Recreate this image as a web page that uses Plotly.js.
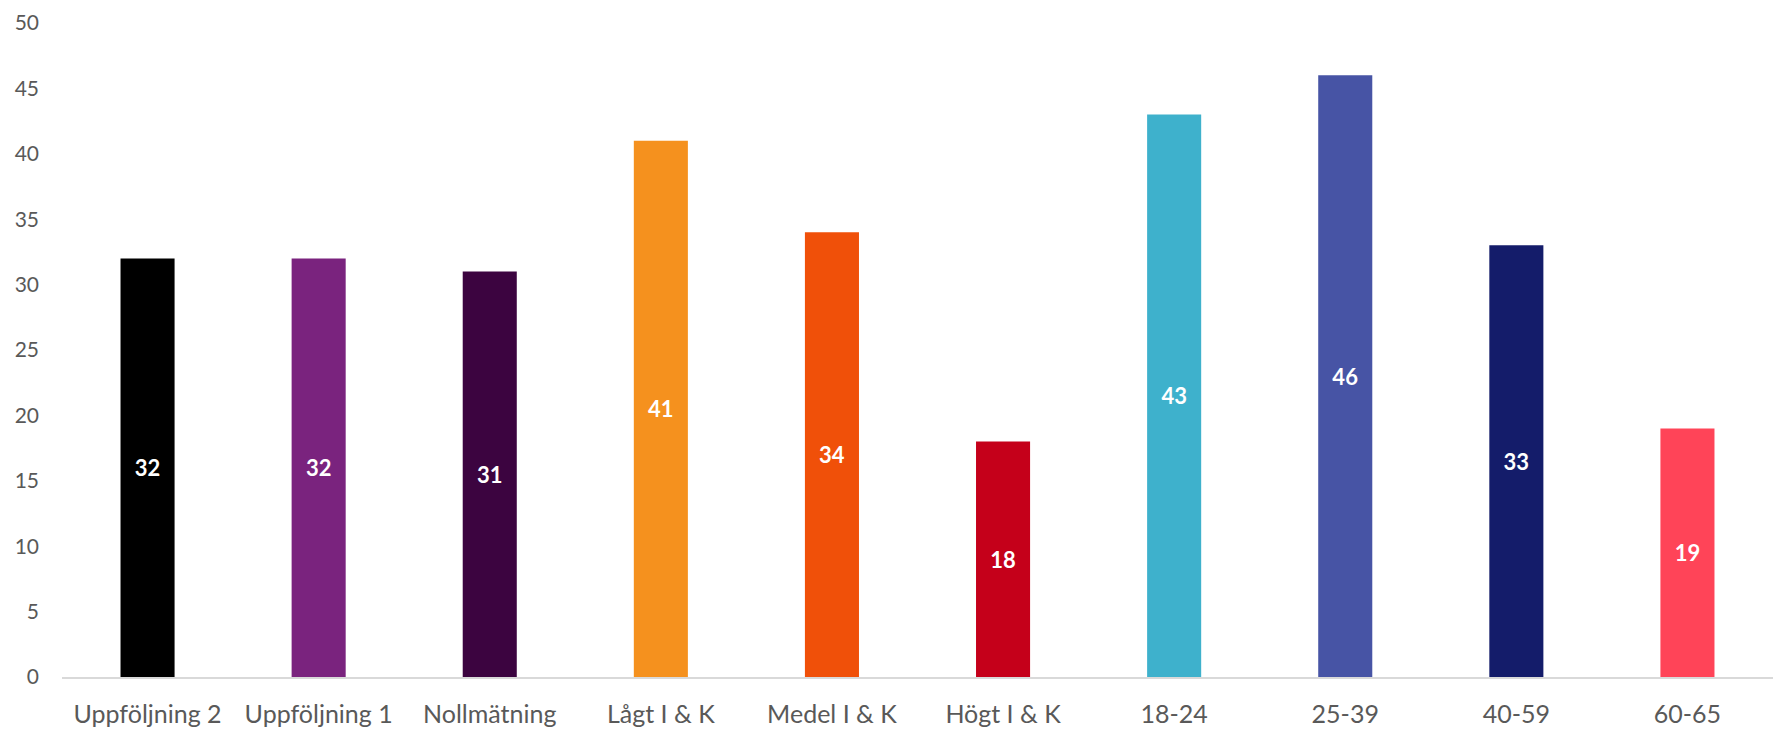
<!DOCTYPE html>
<html>
<head>
<meta charset="utf-8">
<script src="https://cdn.plot.ly/plotly-3.0.1.min.js"></script>
<style>html,body{margin:0;padding:0;background:#fff;}#chart{width:1791px;height:743px;}</style>
</head>
<body>
<div id="chart"></div>
<script>
const categories = ["Uppföljning 2", "Uppföljning 1", "Nollmätning", "Lågt I & K", "Medel I & K", "Högt I & K", "18-24", "25-39", "40-59", "60-65"];
const values = [32, 32, 31, 41, 34, 18, 43, 46, 33, 19];
const barColors = ["#000000", "#7A237E", "#3C0440", "#F5911E", "#F05009", "#C5001A", "#3EB1CC", "#4754A5", "#141C6A", "#FF4458"];
const yTicks = [0, 5, 10, 15, 20, 25, 30, 35, 40, 45, 50];

const trace = {
  type: "bar",
  x: categories,
  y: values,
  marker: {color: barColors},
  text: values.map(String),
  textposition: "inside",
  insidetextanchor: "middle",
  textangle: 0,
  textfont: {family: "Lato, 'Open Sans', sans-serif", size: 22, color: "#ffffff", weight: "bold"},
  hoverinfo: "none"
};

const layout = {
  width: 1791,
  height: 743,
  margin: {l: 62, r: 18, t: 23, b: 66},
  paper_bgcolor: "#ffffff",
  plot_bgcolor: "#ffffff",
  bargap: 0.684,
  showlegend: false,
  font: {family: "Lato, 'Open Sans', sans-serif", color: "#595959"},
  xaxis: {
    type: "category",
    showline: true,
    linecolor: "#D9D9D9",
    linewidth: 2,
    showgrid: false,
    zeroline: false,
    ticks: "",
    tickfont: {size: 25, color: "#595959"},
    ticklabelstandoff: 14
  },
  yaxis: {
    range: [0, 50],
    tickvals: yTicks,
    ticktext: yTicks.map(String),
    showgrid: false,
    zeroline: false,
    showline: false,
    ticks: "",
    tickfont: {size: 21, color: "#595959"},
    ticklabelstandoff: 22
  }
};

Plotly.newPlot("chart", [trace], layout, {displayModeBar: false, staticPlot: true});
</script>
</body>
</html>
